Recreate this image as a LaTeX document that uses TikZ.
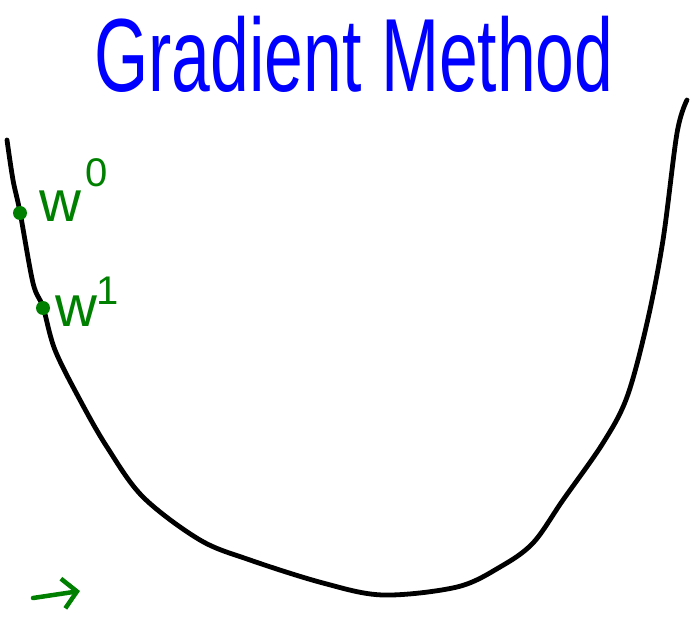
\documentclass[tikz,border=0pt]{standalone}
\usepackage{fontspec}
\setmainfont{Liberation Sans}
\usetikzlibrary{arrows.meta}
\definecolor{hgreen}{RGB}{0,128,0}
\definecolor{hblue}{RGB}{0,0,255}
\tikzset{
  curve/.style={line width=4.8pt, line cap=round, line join=round, black},
  gdot/.style={circle, fill=hgreen, inner sep=0pt, minimum size=14pt},
  wlabel/.style={text=hgreen, inner sep=0pt, font=\fontsize{58}{60}\selectfont},
  sup/.style={text=hgreen, inner sep=0pt, font=\fontsize{40}{42}\selectfont},
  titletext/.style={text=hblue, inner sep=0pt, font=\fontsize{104}{104}\selectfont}
}
\begin{document}
\begin{tikzpicture}[x=1pt,y=-1pt]
\useasboundingbox (0,0) rectangle (692,620);
\node[titletext] (title) at (354,54) {\scalebox{0.67}[1]{Gradient Method}};
\draw[curve] plot[smooth, tension=0.55] coordinates {
 (7,140) (13,180) (20,212) (33,283) (43,307) (55,350) (80,400)
 (107,447) (143,497) (200,540) (250,560) (323,583) (383,595)
 (457,587) (500,567) (533,543) (563,500) (603,443) (627,397)
 (647,323) (663,240) (677,133) (687,100)};
\node[gdot] (d0) at (20,213) {};
\node[gdot] (d1) at (43,308) {};
\node[wlabel, anchor=base west] (w0) at (39,221) {w};
\node[sup, anchor=base west] (s0) at (85,186) {0};
\node[wlabel, anchor=base west] (w1) at (55,326) {w};
\node[sup, anchor=base west] (s1) at (96,304) {1};
\coordinate (a0) at (33,598);
\coordinate (a1) at (80,591);
\draw[hgreen, line width=4.5pt, line cap=round, -{Straight Barb[length=14pt,width=30pt,line width=4.5pt]}] (a0) -- (a1);
\end{tikzpicture}
\end{document}
